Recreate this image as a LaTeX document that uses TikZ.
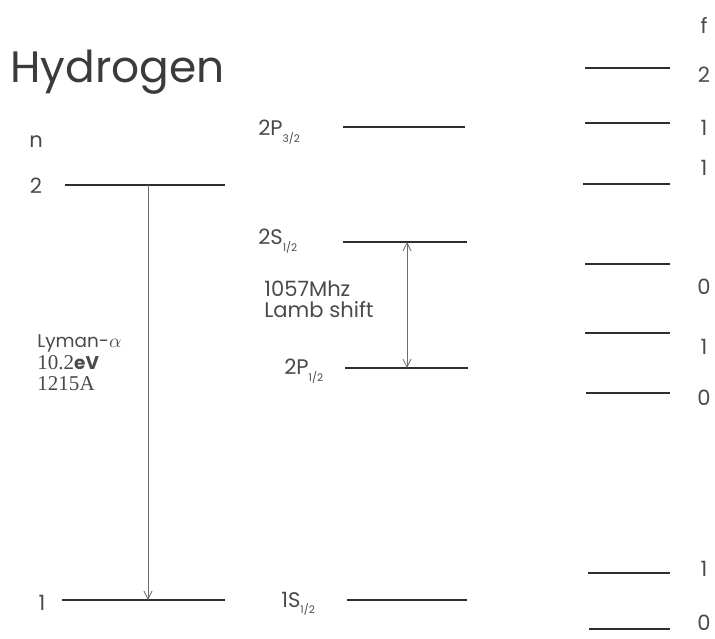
\documentclass[tikz,border=0pt]{standalone}
\usepackage{fontspec}
\setmainfont{Poppins}
\newfontfamily\hyserif{Liberation Serif}
\usetikzlibrary{arrows.meta,positioning,calc}
\usepackage{xcolor}
\definecolor{hyLine}{HTML}{2E2E2E}
\definecolor{hyText}{HTML}{4A4A4A}
\definecolor{hyArr}{HTML}{6E6E6E}
\newcommand{\hysub}[1]{\raisebox{-0.55ex}{\fontsize{6}{6}\selectfont #1}}

\begin{document}
\begin{tikzpicture}[x=0.02cm, y=-0.02cm,
  lvl/.style={draw=hyLine, line width=1.2pt},
  lbl/.style={font=\fontsize{12}{12}\selectfont, text=hyText, inner sep=0pt},
  trn/.style={draw=hyArr, line width=0.5pt, -{Straight Barb[length=1.6mm, width=1.6mm]}},
  lmb/.style={draw=hyArr, line width=0.5pt, {Straight Barb[length=1.6mm, width=1.6mm]}-{Straight Barb[length=1.6mm, width=1.6mm]}}]
\useasboundingbox (0,0) rectangle (715,638);
\node[text=hyText!80!black, font=\fontsize{25}{28}\selectfont, anchor=west, inner sep=0pt] (title) at (10,72) {Hydrogen};

% -- Bohr levels n
\node[lbl] (nhead) at (36,142) {n};
\coordinate (n2l) at (65,185);  \coordinate (n2r) at (225,185);
\coordinate (n1l) at (62,600);  \coordinate (n1r) at (225,600);
\draw[lvl] (n2l) -- (n2r);
\draw[lvl] (n1l) -- (n1r);
\node[lbl] (n2) at (36,186) {2};
\node[lbl] (n1) at (42,603) {1};
\coordinate (ly2) at (148,185); \coordinate (ly1) at (148,600);
\draw[trn] (ly2) -- (ly1);
\node[lbl, font=\fontsize{10.5}{12.2}\selectfont, anchor=west, align=left] (lyman) at (37,363)
  {Lyman-$\alpha$\\{\hyserif\fontsize{12}{12.2}\selectfont 10.2}\textbf{eV}\\{\hyserif\fontsize{12}{12.2}\selectfont 1215A}};

% -- fine structure
\coordinate (p32l) at (343,127); \coordinate (p32r) at (465,127);
\coordinate (s12l) at (343,242); \coordinate (s12r) at (467,242);
\coordinate (p12l) at (345,368); \coordinate (p12r) at (468,368);
\coordinate (s1l) at (347,600);  \coordinate (s1r) at (467,600);
\foreach \a/\b in {p32l/p32r,s12l/s12r,p12l/p12r,s1l/s1r}{\draw[lvl] (\a) -- (\b);}
\node[lbl, anchor=west] (p32) at (258,132) {2P\hysub{3/2}};
\node[lbl, anchor=west] (s12) at (258,241) {2S\hysub{1/2}};
\node[lbl, anchor=west] (p12) at (284,371) {2P\hysub{1/2}};
\node[lbl, anchor=west] (s1) at (281,604) {1S\hysub{1/2}};
\coordinate (lm2) at (407,242); \coordinate (lm1) at (407,368);
\draw[lmb] (lm2) -- (lm1);
\node[lbl, font=\fontsize{12}{12}\selectfont, anchor=west, align=left] (lamb) at (264,299) {1057Mhz\\Lamb shift};

% -- hyperfine f
\node[lbl] (fhead) at (704,25) {f};
\foreach \y/\l [count=\i] in {68/585, 123/585, 184/583, 264/585,
                              333/585, 393/586, 573/588, 629/589}{
  \coordinate (hl\i) at (\l,\y);
  \coordinate (hr\i) at (670,\y);
  \draw[lvl] (hl\i) -- (hr\i);
}
\foreach \t/\f [count=\i] in {75/2, 128/1, 168/1, 287/0, 347/1, 398/0, 569/1, 623/0}{
  \node[lbl] (hf\i) at (704,\t) {\f};
}
\end{tikzpicture}
\end{document}
